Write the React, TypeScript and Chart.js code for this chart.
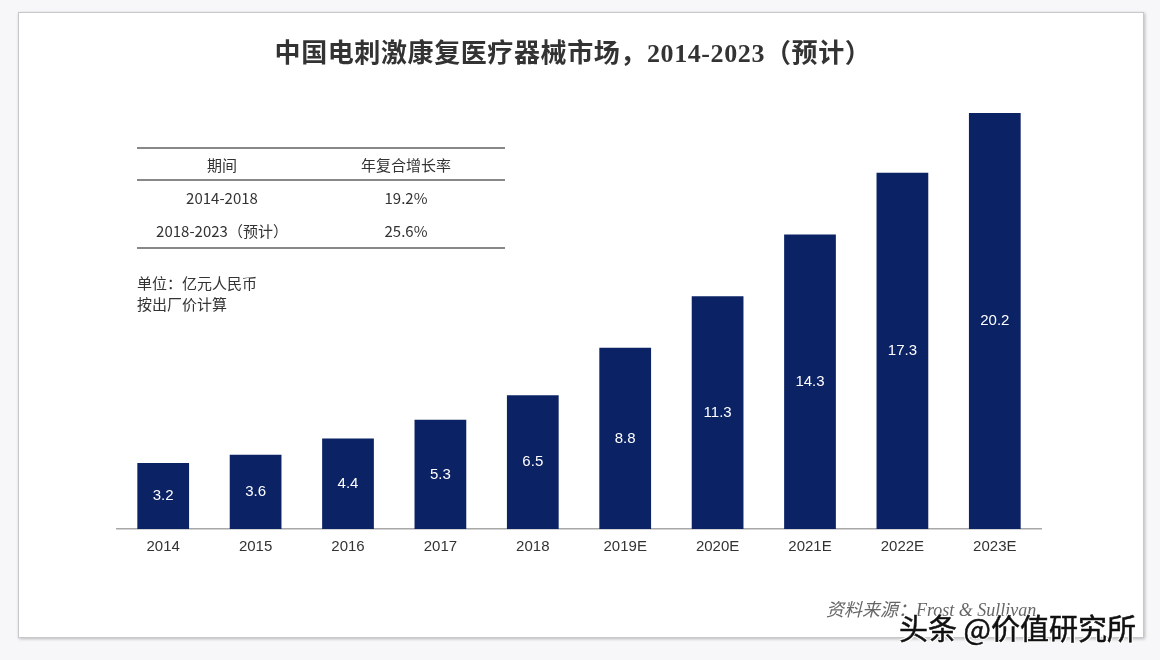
import React, { useEffect, useRef } from "react";
import { Chart, registerables } from "chart.js";

Chart.register(...registerables);

const categories = ["2014", "2015", "2016", "2017", "2018", "2019E", "2020E", "2021E", "2022E", "2023E"];
const marketValues = [3.2, 3.6, 4.4, 5.3, 6.5, 8.8, 11.3, 14.3, 17.3, 20.2];
const tableHeader = ["期间", "年复合增长率"];
const tablePeriods = ["2014-2018", "2018-2023（预计）"];
const tableRates = ["19.2%", "25.6%"];

const titleText = "中国电刺激康复医疗器械市场，2014-2023（预计）";
const unitLines = ["单位：亿元人民币", "按出厂价计算"];
const sourceText = "资料来源：Frost & Sullivan";
const watermark = "头条 @价值研究所";

const sans = '"Noto Sans CJK SC", "Liberation Sans", Arial, sans-serif';

const barLabelPlugin = {
  id: "barLabels",
  afterDatasetsDraw(chart: any) {
    const ctx = chart.ctx;
    const meta = chart.getDatasetMeta(0);
    ctx.save();
    ctx.fillStyle = "#ffffff";
    ctx.font = '15px "Liberation Sans", Arial, sans-serif';
    ctx.textAlign = "center";
    ctx.textBaseline = "middle";
    meta.data.forEach((bar: any, i: number) => {
      const { x, y, base } = bar.getProps(["x", "y", "base"], true);
      ctx.fillText(String(marketValues[i]), x, (y + base) / 2);
    });
    ctx.restore();
  },
};

export default function App() {
  const ref = useRef<HTMLCanvasElement | null>(null);

  useEffect(() => {
    document.body.style.margin = "0";
    document.body.style.background = "#f7f7f9";
    if (!ref.current) return;
    const chart = new Chart(ref.current, {
      type: "bar",
      data: {
        labels: categories,
        datasets: [
          {
            data: marketValues,
            backgroundColor: "#0b2265",
            categoryPercentage: 1,
            barPercentage: 0.56,
          },
        ],
      },
      options: {
        animation: false,
        responsive: false,
        maintainAspectRatio: false,
        layout: { padding: { left: 117, right: 119, top: 76, bottom: 95 } },
        plugins: { legend: { display: false }, tooltip: { enabled: false } },
        scales: {
          x: {
            grid: { display: false, drawTicks: false },
            border: { display: true, color: "#a8a8a8", width: 1.5 },
            ticks: {
              color: "#333333",
              padding: 9,
              font: { size: 15, family: '"Liberation Sans", Arial, sans-serif' },
            },
          },
          y: {
            display: false,
            min: 0,
            max: 22,
          },
        },
      },
      plugins: [barLabelPlugin],
    });
    return () => chart.destroy();
  }, []);

  return (
    <div style={{ position: "relative", width: 1160, height: 660, background: "#f7f7f9", overflow: "hidden" }}>
      <div
        style={{
          position: "absolute",
          left: 18,
          top: 12,
          width: 1124,
          height: 624,
          background: "#ffffff",
          border: "1px solid #c8c8cc",
          boxShadow: "1px 1px 3px rgba(0,0,0,0.25)",
        }}
      />
      <canvas ref={ref} width={1160} height={660} style={{ position: "absolute", left: 0, top: 0 }} />
      <div
        style={{
          position: "absolute",
          left: 0,
          width: 1146,
          top: 37,
          textAlign: "center",
          fontFamily: '"Liberation Serif", "Noto Sans CJK SC", serif',
          fontWeight: "bold",
          fontSize: 26,
          letterSpacing: 0.6,
          color: "#333333",
          lineHeight: "34px",
        }}
      >
        {titleText}
      </div>
      <div style={{ position: "absolute", left: 137, top: 147, width: 368, fontFamily: sans, fontSize: 15, color: "#333" }}>
        <div style={{ borderTop: "2px solid #888", borderBottom: "2px solid #888", display: "flex", height: 30, alignItems: "center" }}>
          <div style={{ width: 170, textAlign: "center" }}>{tableHeader[0]}</div>
          <div style={{ width: 198, textAlign: "center" }}>{tableHeader[1]}</div>
        </div>
        {tablePeriods.map((p, i) => (
          <div key={p} style={{ display: "flex", height: 33, alignItems: "center" }}>
            <div style={{ width: 170, textAlign: "center" }}>{p}</div>
            <div style={{ width: 198, textAlign: "center" }}>{tableRates[i]}</div>
          </div>
        ))}
        <div style={{ borderTop: "2px solid #888" }} />
      </div>
      <div style={{ position: "absolute", left: 137, top: 272, fontFamily: sans, fontSize: 15, color: "#333", lineHeight: "21px" }}>
        {unitLines.map((l) => (
          <div key={l}>{l}</div>
        ))}
      </div>
      <div
        style={{
          position: "absolute",
          left: 826,
          top: 595,
          fontFamily: '"Liberation Serif", "Noto Sans CJK SC", serif',
          fontStyle: "italic",
          fontSize: 18,
          color: "#666",
        }}
      >
        {sourceText}
      </div>
      <div
        style={{
          position: "absolute",
          left: 899,
          top: 609,
          fontFamily: sans,
          fontSize: 29,
          color: "#111",
          lineHeight: "36px",
          WebkitTextStroke: "0.5px #111",
          textShadow: "-1px -1px 0 #fff, 1px -1px 0 #fff, -1px 1px 0 #fff, 1px 1px 0 #fff, 0 0 2px #fff",
        }}
      >
        {watermark}
      </div>
    </div>
  );
}
